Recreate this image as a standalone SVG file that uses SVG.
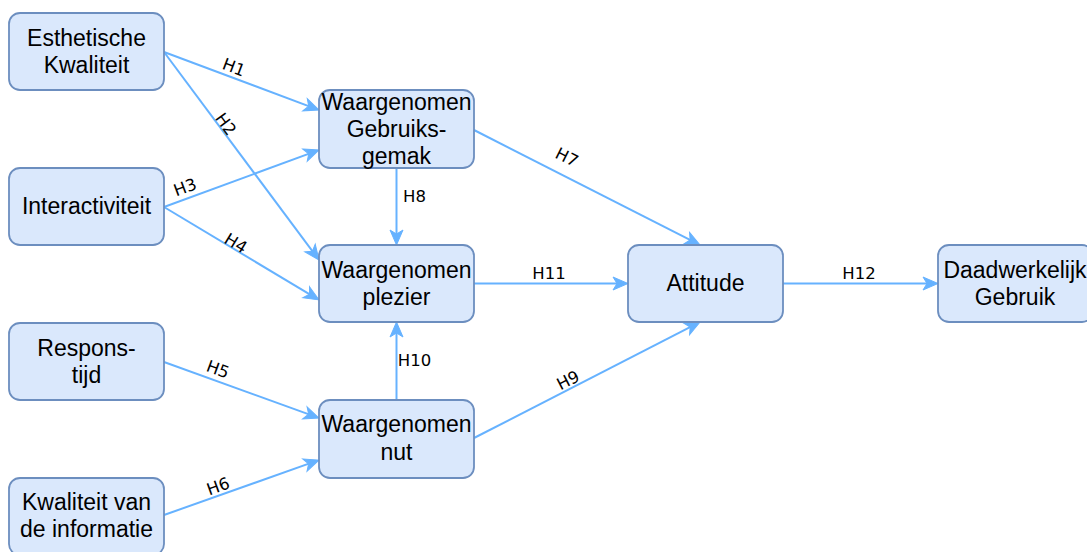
<svg xmlns="http://www.w3.org/2000/svg" width="1087" height="552" viewBox="0 0 1087 552">
<style>
.box{fill:#dae8fc;stroke:#6c8ebf;stroke-width:1.8}
.nt{font-family:"Liberation Sans",Arial,sans-serif;font-size:23px;fill:#000;text-anchor:middle}
.edge{fill:none;stroke:#66b2ff;stroke-width:2}
.lb{font-family:"DejaVu Sans",Verdana,sans-serif;font-size:16.5px;fill:#000;text-anchor:middle}
</style>
<defs>
<marker id="arr" markerUnits="userSpaceOnUse" markerWidth="16" markerHeight="14" refX="11" refY="6.5" orient="auto" overflow="visible">
<path d="M0,0 L15,6.5 L0,13 L4,6.5 Z" fill="#66b2ff" stroke="#66b2ff" stroke-width="1"/>
</marker>
</defs>
<rect width="1087" height="552" fill="#fff"/>
<g id="connectors">
<path class="edge" marker-end="url(#arr)" d="M164,52 L315.3,108.6"/>
<path class="edge" marker-end="url(#arr)" d="M164,52 L316.6,256.8"/>
<path class="edge" marker-end="url(#arr)" d="M164,207 L315.3,151.4"/>
<path class="edge" marker-end="url(#arr)" d="M164,207 L315.6,297.9"/>
<path class="edge" marker-end="url(#arr)" d="M164,362 L315.2,416.6"/>
<path class="edge" marker-end="url(#arr)" d="M164,515 L315.2,461.4"/>
<path class="edge" marker-end="url(#arr)" d="M474,130 L696.4,243.2"/>
<path class="edge" marker-end="url(#arr)" d="M396.5,168 L396.5,241"/>
<path class="edge" marker-end="url(#arr)" d="M474,438 L696.4,323.8"/>
<path class="edge" marker-end="url(#arr)" d="M396.5,400 L396.5,326"/>
<path class="edge" marker-end="url(#arr)" d="M474,283.5 L624,283.5"/>
<path class="edge" marker-end="url(#arr)" d="M783,283.5 L934,283.5"/>
<text class="lb" transform="translate(234,67) rotate(20.8)" y="6">H1</text>
<text class="lb" transform="translate(226,124) rotate(53.7)" y="6">H2</text>
<text class="lb" transform="translate(185,187) rotate(-20.4)" y="6">H3</text>
<text class="lb" transform="translate(236,243) rotate(31.3)" y="6">H4</text>
<text class="lb" transform="translate(218,369) rotate(20.1)" y="6">H5</text>
<text class="lb" transform="translate(218,486) rotate(-19.8)" y="6">H6</text>
<text class="lb" transform="translate(567,157) rotate(26.7)" y="6">H7</text>
<text class="lb" x="414.5" y="202">H8</text>
<text class="lb" transform="translate(568,380) rotate(-27.2)" y="6">H9</text>
<text class="lb" x="414.5" y="366">H10</text>
<text class="lb" x="549" y="279">H11</text>
<text class="lb" x="859" y="279">H12</text>
</g>
<g id="esthetische">
<rect class="box" x="9" y="13" width="155" height="77" rx="11"/>
<text class="nt" x="86.5" y="46">Esthetische</text>
<text class="nt" x="86.5" y="73">Kwaliteit</text>
</g>
<g id="interactiviteit">
<rect class="box" x="9" y="168" width="155" height="77" rx="11"/>
<text class="nt" x="86.5" y="214">Interactiviteit</text>
</g>
<g id="responstijd">
<rect class="box" x="9" y="323" width="155" height="77" rx="11"/>
<text class="nt" x="86.5" y="355.5">Respons-</text>
<text class="nt" x="86.5" y="383">tijd</text>
</g>
<g id="kwaliteit">
<rect class="box" x="9" y="478" width="155" height="77" rx="11"/>
<text class="nt" x="86.5" y="509.5">Kwaliteit van</text>
<text class="nt" x="86.5" y="537">de informatie</text>
</g>
<g id="gebruiksgemak">
<rect class="box" x="319" y="90" width="155" height="78" rx="11"/>
<text class="nt" x="396.5" y="110">Waargenomen</text>
<text class="nt" x="396.5" y="137">Gebruiks-</text>
<text class="nt" x="396.5" y="164">gemak</text>
</g>
<g id="plezier">
<rect class="box" x="319" y="245" width="155" height="77" rx="11"/>
<text class="nt" x="396.5" y="278">Waargenomen</text>
<text class="nt" x="396.5" y="305">plezier</text>
</g>
<g id="nut">
<rect class="box" x="319" y="400" width="155" height="78" rx="11"/>
<text class="nt" x="396.5" y="432">Waargenomen</text>
<text class="nt" x="396.5" y="460">nut</text>
</g>
<g id="attitude">
<rect class="box" x="628" y="245" width="155" height="77" rx="11"/>
<text class="nt" x="705.5" y="291">Attitude</text>
</g>
<g id="gebruik">
<rect class="box" x="938" y="245" width="155" height="77" rx="11"/>
<text class="nt" x="1015" y="278">Daadwerkelijk</text>
<text class="nt" x="1015" y="305">Gebruik</text>
</g>
</svg>
